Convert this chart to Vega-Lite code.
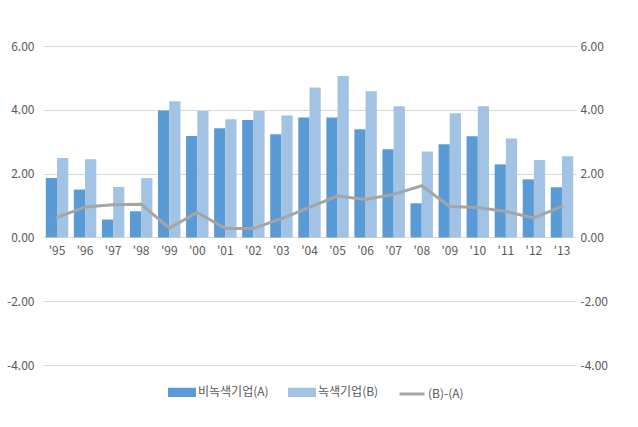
{
  "$schema": "https://vega.github.io/schema/vega-lite/v6.json",
  "width": 533,
  "height": 319,
  "autosize": {"type": "none"},
  "padding": {"left": 43, "top": 46, "right": 62, "bottom": 62},
  "background": "white",
  "config": {
    "font": "Noto Sans CJK KR",
    "view": {"stroke": null},
    "axis": {"labelFont": "Noto Sans CJK KR", "labelFontSize": 12, "labelColor": "#595959", "domain": false, "ticks": false, "title": null},
    "legend": {"labelFont": "Noto Sans CJK KR", "labelFontSize": 12, "labelColor": "#595959"}
  },
  "data": {"values": [
    {"year": "'95", "series": "비녹색기업(A)", "value": 1.86}, {"year": "'95", "series": "녹색기업(B)", "value": 2.49}, {"year": "'95", "series": "(B)-(A)", "value": 0.63},
    {"year": "'96", "series": "비녹색기업(A)", "value": 1.50}, {"year": "'96", "series": "녹색기업(B)", "value": 2.45}, {"year": "'96", "series": "(B)-(A)", "value": 0.95},
    {"year": "'97", "series": "비녹색기업(A)", "value": 0.56}, {"year": "'97", "series": "녹색기업(B)", "value": 1.58}, {"year": "'97", "series": "(B)-(A)", "value": 1.02},
    {"year": "'98", "series": "비녹색기업(A)", "value": 0.82}, {"year": "'98", "series": "녹색기업(B)", "value": 1.86}, {"year": "'98", "series": "(B)-(A)", "value": 1.04},
    {"year": "'99", "series": "비녹색기업(A)", "value": 3.98}, {"year": "'99", "series": "녹색기업(B)", "value": 4.27}, {"year": "'99", "series": "(B)-(A)", "value": 0.29},
    {"year": "'00", "series": "비녹색기업(A)", "value": 3.18}, {"year": "'00", "series": "녹색기업(B)", "value": 3.96}, {"year": "'00", "series": "(B)-(A)", "value": 0.78},
    {"year": "'01", "series": "비녹색기업(A)", "value": 3.42}, {"year": "'01", "series": "녹색기업(B)", "value": 3.70}, {"year": "'01", "series": "(B)-(A)", "value": 0.28},
    {"year": "'02", "series": "비녹색기업(A)", "value": 3.68}, {"year": "'02", "series": "녹색기업(B)", "value": 3.96}, {"year": "'02", "series": "(B)-(A)", "value": 0.28},
    {"year": "'03", "series": "비녹색기업(A)", "value": 3.23}, {"year": "'03", "series": "녹색기업(B)", "value": 3.82}, {"year": "'03", "series": "(B)-(A)", "value": 0.59},
    {"year": "'04", "series": "비녹색기업(A)", "value": 3.76}, {"year": "'04", "series": "녹색기업(B)", "value": 4.70}, {"year": "'04", "series": "(B)-(A)", "value": 0.94},
    {"year": "'05", "series": "비녹색기업(A)", "value": 3.76}, {"year": "'05", "series": "녹색기업(B)", "value": 5.06}, {"year": "'05", "series": "(B)-(A)", "value": 1.30},
    {"year": "'06", "series": "비녹색기업(A)", "value": 3.39}, {"year": "'06", "series": "녹색기업(B)", "value": 4.58}, {"year": "'06", "series": "(B)-(A)", "value": 1.19},
    {"year": "'07", "series": "비녹색기업(A)", "value": 2.76}, {"year": "'07", "series": "녹색기업(B)", "value": 4.11}, {"year": "'07", "series": "(B)-(A)", "value": 1.35},
    {"year": "'08", "series": "비녹색기업(A)", "value": 1.07}, {"year": "'08", "series": "녹색기업(B)", "value": 2.69}, {"year": "'08", "series": "(B)-(A)", "value": 1.62},
    {"year": "'09", "series": "비녹색기업(A)", "value": 2.92}, {"year": "'09", "series": "녹색기업(B)", "value": 3.89}, {"year": "'09", "series": "(B)-(A)", "value": 0.97},
    {"year": "'10", "series": "비녹색기업(A)", "value": 3.17}, {"year": "'10", "series": "녹색기업(B)", "value": 4.11}, {"year": "'10", "series": "(B)-(A)", "value": 0.94},
    {"year": "'11", "series": "비녹색기업(A)", "value": 2.29}, {"year": "'11", "series": "녹색기업(B)", "value": 3.10}, {"year": "'11", "series": "(B)-(A)", "value": 0.81},
    {"year": "'12", "series": "비녹색기업(A)", "value": 1.82}, {"year": "'12", "series": "녹색기업(B)", "value": 2.43}, {"year": "'12", "series": "(B)-(A)", "value": 0.61},
    {"year": "'13", "series": "비녹색기업(A)", "value": 1.57}, {"year": "'13", "series": "녹색기업(B)", "value": 2.54}, {"year": "'13", "series": "(B)-(A)", "value": 0.97}
  ]},
  "encoding": {
    "x": {
      "field": "year", "type": "nominal", "sort": null,
      "scale": {"paddingInner": 0.2, "paddingOuter": 0.1},
      "axis": {"labelAngle": 0, "offset": -128, "labelPadding": 8, "grid": false}
    },
    "color": {
      "field": "series", "type": "nominal",
      "scale": {"domain": ["비녹색기업(A)", "녹색기업(B)", "(B)-(A)"], "range": ["#5b9bd5", "#a2c3e4", "#a5a5a5"]},
      "legend": {
        "title": null, "orient": "none", "direction": "horizontal", "legendX": 125, "legendY": 332,
        "symbolSize": 625, "labelOffset": 2, "columnPadding": 14,
        "encode": {
          "symbols": {"update": {
            "shape": {"signal": "datum.value === '(B)-(A)' ? 'M-1,0H1' : 'M-1,-0.25H1V0.25H-1Z'"},
            "fill": {"signal": "datum.value === '(B)-(A)' ? 'transparent' : scale('color', datum.value)"},
            "stroke": {"signal": "datum.value === '(B)-(A)' ? '#a5a5a5' : 'transparent'"},
            "strokeWidth": {"value": 3},
            "opacity": {"value": 1}
          }}
        }
      }
    }
  },
  "layer": [
    {
      "transform": [{"filter": "datum.series !== '(B)-(A)'"}],
      "mark": {"type": "bar"},
      "encoding": {
        "xOffset": {"field": "series", "type": "nominal", "scale": {"domain": ["비녹색기업(A)", "녹색기업(B)"], "paddingInner": 0}},
        "y": {
          "field": "value", "type": "quantitative",
          "scale": {"domain": [-4, 6], "nice": false, "zero": false},
          "axis": {"values": [-4, -2, 0, 2, 4, 6], "orient": "left", "labelPadding": 9, "gridColor": "#d9d9d9", "gridWidth": 1,
                   "labelExpr": "datum.value < 0 ? '-' + format(-datum.value, '.2f') : format(datum.value, '.2f')"}
        }
      }
    },
    {
      "transform": [{"filter": "datum.series === '(B)-(A)'"}],
      "mark": {"type": "line", "strokeWidth": 3, "strokeJoin": "round", "strokeCap": "round"},
      "encoding": {
        "y": {
          "field": "value", "type": "quantitative",
          "scale": {"domain": [-4, 6], "nice": false, "zero": false},
          "axis": {"values": [-4, -2, 0, 2, 4, 6], "orient": "right", "labelPadding": 4, "grid": false,
                   "labelExpr": "datum.value < 0 ? '-' + format(-datum.value, '.2f') : format(datum.value, '.2f')"}
        }
      }
    }
  ],
  "resolve": {"scale": {"y": "independent"}}
}
